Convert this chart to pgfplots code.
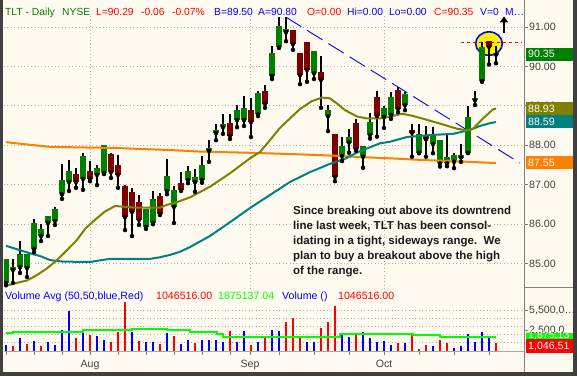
\documentclass[border=0pt]{standalone}
\usepackage{pgfplots}
\pgfplotsset{compat=1.18}
\usepackage{pgfplotstable}
\usepackage{fontspec}
\setmainfont{Liberation Sans}
\usetikzlibrary{arrows.meta}

\definecolor{bgcream}{RGB}{255,251,240}
\definecolor{frame}{RGB}{64,64,64}
\definecolor{cgreen}{RGB}{0,128,0}
\definecolor{cred}{RGB}{128,0,0}
\definecolor{maolive}{RGB}{128,128,0}
\definecolor{mateal}{RGB}{0,128,128}
\definecolor{maorange}{RGB}{255,128,0}
\definecolor{volblue}{RGB}{0,0,255}
\definecolor{volred}{RGB}{255,0,0}
\definecolor{volgreen}{RGB}{0,255,0}
\definecolor{gridgray}{RGB}{175,175,175}
\definecolor{labelgray}{RGB}{64,64,64}
\definecolor{txtgreen}{RGB}{0,128,0}
\definecolor{txtred}{RGB}{255,0,0}
\definecolor{txtblue}{RGB}{0,0,255}

\pgfplotstableread{
i O H L C
0 84.51 85.12 84.45 85.12
1 84.84 85.12 84.51 84.91
2 84.91 85.57 84.76 85.24
3 84.89 85.24 84.66 85.24
4 85.37 86.13 85.29 86.03
5 85.70 86.00 85.57 85.88
6 86.03 86.21 85.70 86.21
7 86.08 86.43 85.98 86.38
8 86.76 87.53 86.64 87.12
9 87.07 87.63 86.84 87.35
11 87.15 87.80 86.87 87.73
13 87.25 87.50 86.99 87.42
14 87.30 88.01 87.27 88.01
20 85.93 86.38 85.88 86.38
21 86.03 86.84 86.00 86.64
23 86.84 87.65 86.76 87.22
24 86.44 86.97 86.03 86.87
26 87.12 87.47 87.04 87.35
27 87.07 87.40 86.82 87.20
28 87.12 87.73 87.05 87.50
29 87.86 88.13 87.58 87.93
30 88.31 88.54 88.13 88.39
31 88.46 88.79 88.29 88.54
33 88.64 89.02 88.46 88.89
34 88.64 89.25 88.49 88.95
36 88.79 89.38 88.74 89.33
38 89.76 90.52 89.68 90.34
39 90.49 91.25 90.47 91.03
40 90.87 91.25 90.64 90.95
44 89.83 90.39 89.68 90.39
46 88.74 89.02 88.36 88.89
48 87.73 88.21 87.60 87.98
49 88.07 88.42 87.81 88.22
51 87.71 87.98 87.43 87.98
52 88.26 88.83 88.17 88.60
54 88.72 89.00 88.44 88.95
55 88.77 89.36 88.67 89.22
57 89.02 89.36 88.89 89.31
59 87.81 88.54 87.80 88.29
61 88.03 88.47 87.80 88.26
62 87.54 88.13 87.46 88.13
63 87.54 88.26 87.47 87.71
64 87.58 87.80 87.42 87.75
65 87.69 88.03 87.58 87.75
66 87.81 89.00 87.80 88.71
67 89.14 89.38 89.02 89.21
68 89.63 90.63 89.61 90.50
70 90.30 90.52 90.08 90.35
}\upcandles

\pgfplotstableread{
i O H L C
10 87.27 87.42 86.92 87.07
12 87.35 87.60 87.09 87.15
15 87.78 87.80 87.17 87.32
16 87.50 87.75 86.92 87.25
17 86.97 86.99 85.85 86.18
18 86.82 86.92 85.70 86.31
19 86.56 86.74 85.98 86.11
22 86.71 86.79 86.23 86.26
25 87.05 87.32 86.84 86.87
32 88.57 88.79 88.16 88.24
35 88.89 89.20 88.21 88.59
37 89.38 89.53 88.95 89.05
41 90.92 90.92 90.42 90.57
42 90.34 90.34 89.55 89.78
43 90.62 90.62 89.61 89.91
45 89.86 90.26 88.95 89.66
47 88.29 88.29 87.09 87.20
50 88.57 88.67 87.86 87.90
53 89.22 89.38 88.22 88.74
56 89.40 89.49 88.84 88.93
58 88.39 88.54 87.71 88.32
60 88.24 88.49 87.71 88.15
69 90.65 90.65 90.05 90.50
}\downcandles

\pgfplotstableread{
i v
0 84.44
1.29 84.50
3 84.57
4.43 84.71
5.86 84.88
7.29 85.09
8.71 85.34
10.14 85.60
11.29 85.88
12.71 86.11
14.14 86.32
15.57 86.46
17 86.44
18.43 86.42
22 86.42
23 86.49
24.14 86.54
26.29 86.68
29.14 86.95
32 87.29
34.86 87.67
36.29 87.83
37.71 88.13
39.14 88.44
40.57 88.68
42 88.92
43.71 89.12
45.14 89.21
46.29 89.19
47.43 89.04
48.43 88.89
50.14 88.73
51.57 88.68
53.43 88.68
55.14 88.74
56.57 88.80
58 88.75
59.86 88.66
62 88.55
64.43 88.42
65.86 88.38
66.71 88.42
68.14 88.68
69.57 88.91
70 88.93
}\olivema

\pgfplotstableread{
i v
0 85.45
2 85.34
3.43 85.26
4.86 85.19
6.29 85.09
8.14 85.05
12 85.04
13 85.07
14.86 85.12
20.57 85.12
22 85.16
23.43 85.22
24.86 85.30
26.29 85.42
29.14 85.70
32 86.05
34.86 86.41
37.71 86.74
40.57 87.07
43.43 87.32
46.29 87.53
48.43 87.66
50.57 87.85
53.43 88.05
54.86 88.09
57.29 88.21
60.57 88.26
63.86 88.29
66.29 88.39
67.71 88.49
69.14 88.56
70 88.59
}\tealma

\pgfplotstableread{
i v
0 88.08
2 88.04
4.14 88.00
6.29 87.96
16 87.93
20.14 87.90
23.43 87.88
27.71 87.84
34.86 87.81
42 87.77
47.71 87.73
50.57 87.70
54.86 87.67
59.14 87.63
64.86 87.59
70 87.55
}\orangema

\pgfplotstableread{
i v
0 0.81
2 1.74
4 1.34
6 1.21
7 0.81
8 2.82
9 5.37
11 2.42
13 2.01
14 1.48
18 2.55
20 1.21
21 1.21
23 2.42
25 0.94
26 1.48
28 1.48
29 1.48
30 1.48
31 1.21
33 1.21
34 2.68
36 1.21
38 2.82
39 2.68
43 1.21
44 1.21
48 2.15
49 1.88
51 2.55
52 1.74
53 1.21
54 1.34
55 0.81
57 1.07
61 0.67
64 0.40
65 0.67
66 2.28
67 1.21
68 2.55
69 1.74
}\volup

\pgfplotstableread{
i v
1 0.67
3 0.94
5 0.67
10 1.74
12 2.15
15 1.21
16 2.55
17 6.58
19 1.34
22 0.94
24 2.01
27 1.07
32 2.68
35 0.81
37 1.74
40 3.89
41 4.43
42 1.83
45 3.09
46 3.89
47 6.04
50 2.42
56 1.07
58 2.15
59 0.27
60 0.81
62 1.48
63 1.07
70 1.05
}\voldown

\pgfplotstableread{
i v
0 2.38
1 2.59
11 2.82
18 2.99
23 2.82
26.3 2.51
30.1 2.24
31 1.92
47.7 2.28
58.1 2.15
62 1.92
70 1.92
}\volavg

\begin{document}
\begin{tikzpicture}[x=1pt,y=1pt]
\useasboundingbox (0,0) rectangle (577,376);
\fill[bgcream] (0,0) rectangle (577,376);

% ---------------- price panel ----------------
\begin{axis}[
  at={(4pt,87pt)}, anchor=south west, scale only axis,
  width=520pt, height=275pt,
  xmin=-0.2857, xmax=74, ymin=84.355, ymax=91.33,
  axis line style={draw=none},
  xtick={12,34.86,54}, xticklabels={}, xtick style={draw=none},
  xmajorgrids, ymajorgrids,
  grid style={gridgray, line width=0.8pt, dash pattern=on 0.8pt off 2.6pt},
  ytick={85,86,87,88,89,90,91},
  yticklabels={85.00,86.00,87.00,88.00,89.00,90.00,91.00},
  ytick pos=right, yticklabel pos=right,
  tick align=outside, major tick length=4pt,
  ytick style={gray, line width=0.8pt},
  yticklabel style={anchor=west, inner sep=0pt, xshift=1pt,
    font=\fontsize{10.6}{12}\selectfont, text=labelgray},
]
% highlight ellipse
\filldraw[fill=yellow, draw=blue, line width=1.6pt]
  (axis cs:69,90.58) ellipse [x radius=13.3pt, y radius=11.7pt];
% red dashed resistance
\draw[red, line width=0.9pt, dash pattern=on 3pt off 3pt]
  (axis cs:65,90.61) -- (axis cs:73.7,90.61);
% blue dashed downtrend line
\draw[blue, line width=0.9pt, dash pattern=on 18pt off 7pt]
  (axis cs:40,91.25) -- (axis cs:73.43,87.55);

% wicks
\addplot[only marks, mark=none, forget plot,
  error bars/.cd, y dir=plus, y explicit, error mark=none,
  error bar style={line width=2pt, black}]
  table[x=i, y=L, y error expr=\thisrow{H}-\thisrow{L}] {\upcandles};
\addplot[only marks, mark=none, forget plot,
  error bars/.cd, y dir=plus, y explicit, error mark=none,
  error bar style={line width=2pt, black}]
  table[x=i, y=L, y error expr=\thisrow{H}-\thisrow{L}] {\downcandles};
% bodies
\addplot[only marks, mark=none, forget plot,
  error bars/.cd, y dir=plus, y explicit, error mark=none,
  error bar style={line width=6pt, cgreen}]
  table[x=i, y=O, y error expr=\thisrow{C}-\thisrow{O}] {\upcandles};
\addplot[only marks, mark=none, forget plot,
  error bars/.cd, y dir=plus, y explicit, error mark=none,
  error bar style={line width=6pt, cred}]
  table[x=i, y=C, y error expr=\thisrow{O}-\thisrow{C}] {\downcandles};

% moving averages
\addplot[maorange, line width=2pt, mark=none] table[x=i, y=v] {\orangema};
\addplot[mateal, line width=2pt, mark=none] table[x=i, y=v] {\tealma};
\addplot[maolive, line width=2pt, mark=none] table[x=i, y=v] {\olivema};

% arrow
\draw[-{Triangle[width=8pt,length=6pt]}, line width=2.4pt, black]
  (axis cs:71.14,90.85) -- (axis cs:71.14,91.27);
\end{axis}

% ---------------- volume panel ----------------
\begin{axis}[
  at={(4pt,25pt)}, anchor=south west, scale only axis,
  width=520pt, height=59pt,
  xmin=-0.2857, xmax=74, ymin=0, ymax=7.92,
  axis line style={draw=none},
  xtick={0,4,8,12,16,20,24,28,32,34.86,39,44,49,54,59,64,69},
  xticklabels={,,,Aug,,,,,,Sep,,,,Oct,,,},
  xtick pos=bottom,
  ytick={2.82,5.5}, yticklabels={{2,500,0},{5,500,0\ldots}},
  ytick pos=right, yticklabel pos=right,
  minor ytick={1.1,2.2,3.3,4.4,5.5}, yminorgrids,
  minor grid style={gridgray, line width=0.8pt, dash pattern=on 0.8pt off 2.6pt},
  minor tick length=0pt,
  tick align=outside, major tick length=4pt,
  tick style={gray, line width=0.8pt},
  yticklabel style={anchor=west, inner sep=0pt, xshift=1pt,
    font=\fontsize{10.6}{12}\selectfont, text=labelgray},
  xticklabel style={anchor=base, inner sep=0pt, yshift=-12pt,
    font=\fontsize{10.6}{12}\selectfont, text=labelgray},
]
\addplot[ycomb, volblue, line width=2pt, mark=none] table[x=i, y=v] {\volup};
\addplot[ycomb, volred, line width=2pt, mark=none] table[x=i, y=v] {\voldown};
\addplot[const plot mark left, volgreen, line width=2pt, mark=none] table[x=i, y=v] {\volavg};
\end{axis}

% bottom line of volume panel
\draw[gray!70, line width=0.6pt] (4,25) -- (524,25);
% right axis line and separator
\draw[gray, line width=1pt] (524,4) -- (524,376);
\draw[gray, line width=1pt] (524,89) -- (573,89);

% value boxes
\fill[cgreen] (525.5,315.3) rectangle (573,328.3);
\node[anchor=west, inner sep=0pt, text=white, font=\fontsize{10.6}{12}\selectfont] at (528,321.8) {90.35};
\fill[maolive] (525.5,261) rectangle (573,273.7);
\node[anchor=west, inner sep=0pt, text=white, font=\fontsize{10.6}{12}\selectfont] at (528,267.3) {88.93};
\fill[mateal] (525.5,247.7) rectangle (573,261);
\node[anchor=west, inner sep=0pt, text=white, font=\fontsize{10.6}{12}\selectfont] at (528,254.3) {88.59};
\fill[maorange] (525.5,206.7) rectangle (573,220);
\node[anchor=west, inner sep=0pt, text=white, font=\fontsize{10.6}{12}\selectfont] at (528,213.3) {87.55};
\fill[volgreen] (525.5,36.7) rectangle (573,43.3);
\node[anchor=west, inner sep=0pt, text=white, font=\fontsize{10.6}{12}\selectfont] at (528,40.5) {1,875,13};
\fill[volred] (525.5,23.3) rectangle (573,36.7);
\node[anchor=west, inner sep=0pt, text=white, font=\fontsize{10.6}{12}\selectfont] at (528,30) {1,046,51};

% header
\begin{scope}[every node/.style={anchor=base west, inner sep=0pt, font=\fontsize{10.3}{12}\selectfont}]
\node[text=txtgreen] at (5,361) {TLT - Daily};
\node[text=txtgreen] at (62,361) {NYSE};
\node[text=txtred] at (96,361) {L=90.29};
\node[text=txtred] at (141,361) {-0.06};
\node[text=txtred] at (172,361) {-0.07\%};
\node[text=txtblue] at (214,361) {B=89.50};
\node[text=txtblue] at (258,361) {A=90.80};
\node[text=txtred] at (307,361) {O=0.00};
\node[text=txtblue] at (347,361) {Hi=0.00};
\node[text=txtblue] at (389,361) {Lo=0.00};
\node[text=txtred] at (434,361) {C=90.35};
\node[text=txtblue] at (480,361) {V=0};
\node[text=txtblue] at (505,361) {M\ldots};
\end{scope}

% volume legend
\begin{scope}[every node/.style={anchor=base west, inner sep=0pt, font=\fontsize{10.6}{12}\selectfont}]
\node[text=txtblue] at (5,76.5) {Volume Avg (50,50,blue,Red)};
\node[text=txtred] at (156,76.5) {1046516.00};
\node[text=volgreen] at (218,76.5) {1875137.04};
\node[text=txtblue] at (282,76.5) {Volume ()};
\node[text=txtred] at (338,76.5) {1046516.00};
\end{scope}

% annotation
\begin{scope}[every node/.style={anchor=base west, inner sep=0pt, font=\bfseries\fontsize{11.5}{15}\selectfont, text=black!90}]
\node at (293,162) {Since breaking out above its downtrend};
\node at (293,147) {line last week, TLT has been consol-};
\node at (293,132) {idating in a tight, sideways range.\ \ We};
\node at (293,117) {plan to buy a breakout above the high};
\node at (293,102) {of the range.};
\end{scope}

% frame
\fill[frame] (0,0) rectangle (3.3,376);
\fill[frame] (573,0) rectangle (577,376);
\fill[frame] (0,0) rectangle (577,4);
\end{tikzpicture}
\end{document}
